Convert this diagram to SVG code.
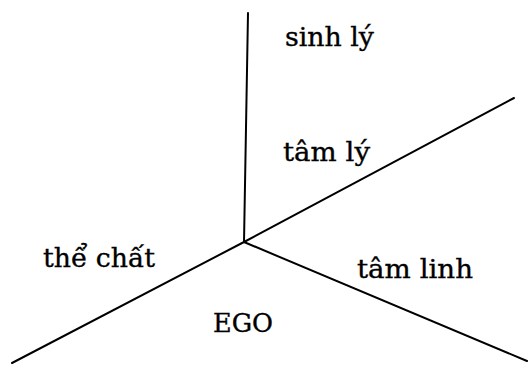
<svg xmlns="http://www.w3.org/2000/svg" width="529" height="365" viewBox="0 0 529 365">
<style>
.ln{stroke:#000;stroke-width:2;fill:none;stroke-linecap:round}
.lb{font-family:"DejaVu Serif","Liberation Serif",serif;font-size:26px;fill:#000;stroke:#000;stroke-width:0.35}
</style>
<rect width="529" height="365" fill="#fff"/>
<g id="connectors">
<line class="ln" x1="248" y1="13" x2="244" y2="242"/>
<line class="ln" x1="244" y1="242" x2="514" y2="98"/>
<line class="ln" x1="244" y1="242" x2="12" y2="363"/>
<line class="ln" x1="244" y1="242" x2="527" y2="361"/>
</g>
<g id="sinh-ly"><text class="lb" x="285" y="46" textLength="89" lengthAdjust="spacingAndGlyphs">sinh lý</text></g>
<g id="tam-ly"><text class="lb" x="283" y="161" textLength="87" lengthAdjust="spacingAndGlyphs">tâm lý</text></g>
<g id="the-chat"><text class="lb" x="43" y="267" textLength="112" lengthAdjust="spacingAndGlyphs">thể chất</text></g>
<g id="tam-linh"><text class="lb" x="357" y="278" textLength="116" lengthAdjust="spacingAndGlyphs">tâm linh</text></g>
<g id="ego"><text class="lb" x="213" y="332" textLength="60" lengthAdjust="spacingAndGlyphs">EGO</text></g>
</svg>
